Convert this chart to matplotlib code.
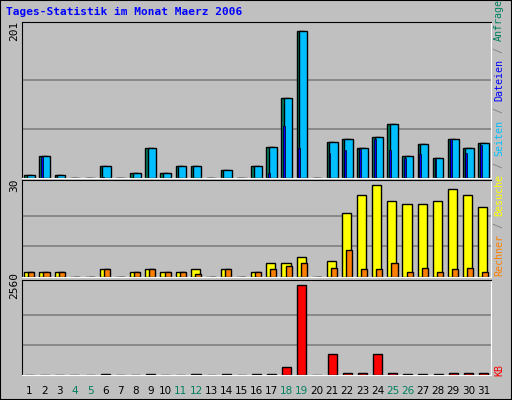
import numpy as np
import matplotlib.pyplot as plt
from matplotlib.patches import Rectangle

days = np.arange(1, 32)
anfragen = [4, 30, 4, 0, 0, 16, 0, 7, 41, 7, 16, 16, 0, 11, 0, 16, 42, 109, 201, 0,
            49, 53, 41, 56, 74, 30, 46, 27, 53, 41, 48]
dateien = [4, 30, 4, 0, 0, 16, 0, 7, 41, 7, 16, 16, 0, 11, 0, 16, 42, 109, 201, 0,
           49, 53, 41, 56, 74, 30, 46, 27, 53, 41, 48]
seiten = [0, 28, 0, 0, 0, 2, 0, 0, 0, 0, 0, 0, 0, 0, 0, 0, 7, 71, 41, 0,
          34, 38, 40, 53, 38, 27, 33, 26, 53, 34, 45]
besuche = [1.5, 1.5, 1.5, 0, 0, 2.5, 0, 1.5, 2.5, 1.5, 1.5, 2.5, 0, 2.5, 0, 1.5, 4.5, 4.5, 6.5, 0,
           5.4, 21, 27, 30, 25, 24, 24, 25, 29, 27, 23]
rechner = [1.5, 1.5, 1.5, 0, 0, 2.5, 0, 1.5, 2.5, 1.5, 1.5, 1, 0, 2.5, 0, 1.5, 2.5, 3.5, 4.5, 0,
           3, 9, 2.5, 2.5, 4.5, 1.5, 3, 1.5, 2.5, 3, 1.5]
kb = [0, 0, 0, 0, 0, 20, 0, 0, 20, 0, 0, 20, 0, 20, 0, 20, 20, 230, 2560, 0,
      610, 50, 50, 590, 50, 30, 30, 30, 60, 60, 60]
weekend = [4, 5, 11, 12, 18, 19, 25, 26]

W, H = 512, 400
fig = plt.figure(figsize=(W / 100, H / 100), dpi=100, facecolor='#C0C0C0')
fig.patches.append(Rectangle((0, 0), 1, 1, transform=fig.transFigure, fill=False,
                             edgecolor='black', lw=1.5))

def panel(y0, y1):
    ax = fig.add_axes([22 / W, 1 - y1 / H, (491 - 22) / W, (y1 - y0) / H])
    ax.set_facecolor('#C0C0C0')
    ax.set_xlim(0.5, 31.5)
    ax.set_xticks([])
    for s in ax.spines.values():
        s.set_color('black')
    ax.spines['right'].set_color('white')
    ax.spines['bottom'].set_color('white')
    return ax

def grid(ax, top):
    ax.set_ylim(0, top * 1.06)
    for f in (1 / 3, 2 / 3):
        ax.axhline(top * f, color='#808080', lw=1.2, zorder=0)
    ax.set_yticks([top])
    ax.set_yticklabels([str(top)], rotation=90, va='center', family='DejaVu Sans Mono', fontsize=8)
    ax.tick_params(length=0, pad=2)

ec = dict(edgecolor='black', linewidth=1, zorder=2)
ax1 = panel(22, 178)
grid(ax1, 201)
ax1.bar(days - 0.1, anfragen, width=0.5, color='#00805F', **ec)
ax1.bar(days + 0.08, dateien, width=0.55, color='#00BFFF', **ec)
ax1.bar(days - 0.17, seiten, width=0.12, color='#0000FF', edgecolor='black', linewidth=0.5, zorder=3)

ax2 = panel(180, 277)
grid(ax2, 30)
ax2.bar(days - 0.05, besuche, width=0.6, color='#FFFF00', **ec)
ax2.bar(days + 0.12, rechner, width=0.4, color='#FF8000', **ec)

ax3 = panel(280, 375)
grid(ax3, 2560)
ax3.bar(days, kb, width=0.6, color='#FF0000', **ec)
for d in days:
    ax3.text(d, -0.17, str(d), transform=ax3.get_xaxis_transform(), ha='center', va='center',
             fontsize=7.5, family='DejaVu Sans', color='#00805F' if d in weekend else 'black')

fig.text(6 / W, 1 - 12 / H, 'Tages-Statistik im Monat Maerz 2006', color='#0000FF',
         fontsize=8, fontweight='bold', family='DejaVu Sans Mono', va='center')

# right side legend, monospace so each char takes the same step
parts = [('Rechner', '#FF8000'), (' / ', '#808080'), ('Besuche', '#FFFF00'), (' / ', '#808080'),
         ('Seiten', '#00BFFF'), (' / ', '#808080'), ('Dateien', '#0000FF'), (' / ', '#808080'),
         ('Anfragen', '#00805F')]
fs = 7.2
step = fs * 0.602 * 100 / 72
y = 276
for txt, col in parts:
    fig.text(499 / W, 1 - y / H, txt, rotation=90, color=col, fontsize=fs,
             family='DejaVu Sans Mono', ha='center', va='bottom')
    y -= len(txt) * step
fig.text(499 / W, 1 - 376 / H, 'KB', rotation=90, color='#FF0000', fontsize=fs,
         family='DejaVu Sans Mono', ha='center', va='bottom')

fig.savefig('out.png', dpi=100, facecolor=fig.get_facecolor())
